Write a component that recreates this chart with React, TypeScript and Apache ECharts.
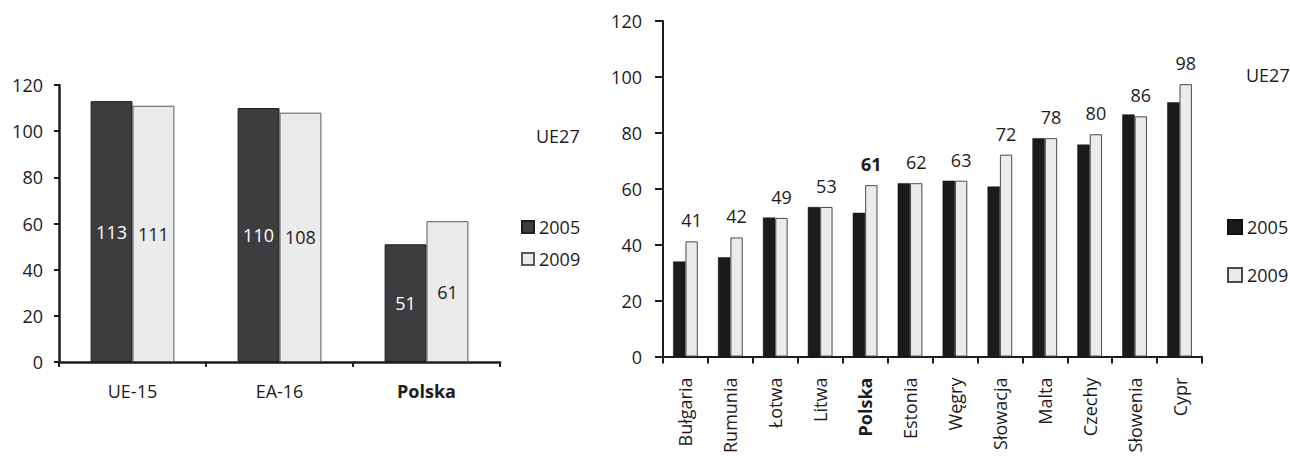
import React, { useEffect, useRef } from "react";
import * as echarts from "echarts";

const FONT = "Open Sans";
const FS = 18;

const leftCategories = ["UE-15", "EA-16", "Polska"];
const left2005 = [113, 110, 51];
const left2009 = [111, 108, 61];

const rightCategories = ["Bułgaria", "Rumunia", "Łotwa", "Litwa", "Polska", "Estonia", "Węgry", "Słowacja", "Malta", "Czechy", "Słowenia", "Cypr"];
const right2005 = [34, 35.5, 49.7, 53.5, 51.4, 62, 62.9, 60.8, 78.1, 75.8, 86.6, 90.9];
const right2009 = [41.2, 42.6, 49.6, 53.5, 61.3, 62, 62.9, 72.2, 78.1, 79.5, 85.9, 97.4];
const right2009Labels = ["41", "42", "49", "53", "61", "62", "63", "72", "78", "80", "86", "98"];

const seriesNames = ["2005", "2009"];
const yTicks = { min: 0, max: 120, interval: 20 };
const refLabel = "UE27";
const boldCategory = "Polska";

const TXT = "#1e1b1c";

function catFormatter(v: string) {
  return v === boldCategory ? `{b|${v}}` : v;
}

const boldRich = { b: { fontWeight: "bold", fontSize: FS, fontFamily: FONT, color: TXT } };

function leftOption(): any {
  return {
    animation: false,
    textStyle: { fontFamily: FONT },
    grid: { left: 59, top: 85, width: 441, height: 277 },
    xAxis: {
      type: "category",
      data: leftCategories,
      axisLine: { lineStyle: { color: TXT, width: 2.5 } },
      axisTick: { show: true, length: 5, lineStyle: { color: TXT, width: 2 } },
      axisLabel: {
        margin: 20,
        color: TXT,
        fontSize: FS,
        fontFamily: FONT,
        formatter: catFormatter,
        rich: boldRich,
      },
    },
    yAxis: {
      type: "value",
      ...yTicks,
      axisLine: { show: true, lineStyle: { color: TXT, width: 2.5 } },
      axisTick: { show: true, length: 5, lineStyle: { color: TXT, width: 2 } },
      splitLine: { show: false },
      axisLabel: { margin: 16, color: TXT, fontSize: FS, fontFamily: FONT },
    },
    legend: {
      orient: "vertical",
      left: 521,
      top: 218,
      padding: 0,
      itemWidth: 12,
      itemHeight: 12,
      itemGap: 14,
      icon: "rect",
      textStyle: { fontSize: FS, color: TXT, fontFamily: FONT },
      data: seriesNames,
    },
    graphic: [
      {
        type: "text",
        left: 536,
        top: 127,
        style: { text: refLabel, fontSize: FS, fill: TXT, fontFamily: FONT },
      },
    ],
    series: [
      {
        name: seriesNames[0],
        type: "bar",
        data: left2005,
        barGap: "0%",
        barCategoryGap: "43%",
        itemStyle: { color: "#3d3d3f", borderColor: "#1f1f1f", borderWidth: 1 },
        label: { show: true, position: "inside", color: "#ffffff", fontSize: FS, fontFamily: FONT },
      },
      {
        name: seriesNames[1],
        type: "bar",
        data: left2009,
        barGap: "0%",
        barCategoryGap: "43%",
        itemStyle: { color: "#ebebeb", borderColor: "#5a5a5a", borderWidth: 1 },
        label: { show: true, position: "inside", color: TXT, fontSize: FS, fontFamily: FONT },
      },
    ],
  };
}

function rightOption(): any {
  return {
    animation: false,
    textStyle: { fontFamily: FONT },
    grid: { left: 63, top: 21, width: 539, height: 342 },
    xAxis: {
      type: "category",
      data: rightCategories,
      axisLine: { lineStyle: { color: TXT, width: 2 } },
      axisTick: { show: true, length: 7, lineStyle: { color: TXT, width: 2 } },
      axisLabel: {
        rotate: 90,
        margin: 21,
        color: TXT,
        fontSize: FS,
        fontFamily: FONT,
        interval: 0,
        formatter: catFormatter,
        rich: boldRich,
      },
    },
    yAxis: {
      type: "value",
      ...yTicks,
      axisLine: { show: true, lineStyle: { color: TXT, width: 2 } },
      axisTick: { show: true, length: 8, lineStyle: { color: TXT, width: 2 } },
      splitLine: { show: false },
      axisLabel: { margin: 21, color: TXT, fontSize: FS, fontFamily: FONT },
    },
    legend: {
      orient: "vertical",
      left: 627,
      top: 218,
      padding: 0,
      itemWidth: 14,
      itemHeight: 14,
      itemGap: 30,
      icon: "rect",
      textStyle: { fontSize: FS, color: TXT, fontFamily: FONT },
      data: seriesNames,
    },
    graphic: [
      {
        type: "text",
        left: 646,
        top: 66,
        style: { text: refLabel, fontSize: FS, fill: TXT, fontFamily: FONT },
      },
    ],
    series: [
      {
        name: seriesNames[0],
        type: "bar",
        data: right2005,
        barGap: "0%",
        barCategoryGap: "45%",
        itemStyle: { color: "#1b1b1b", borderColor: "#111", borderWidth: 0.5 },
      },
      {
        name: seriesNames[1],
        type: "bar",
        data: right2009,
        barGap: "0%",
        barCategoryGap: "45%",
        itemStyle: { color: "#ebebeb", borderColor: "#4a4a4a", borderWidth: 1 },
        label: {
          show: true,
          position: "top",
          distance: 12,
          color: TXT,
          fontSize: FS,
          fontFamily: FONT,
          formatter: (p: any) => {
            const t = right2009Labels[p.dataIndex];
            return rightCategories[p.dataIndex] === boldCategory ? `{b|${t}}` : t;
          },
          rich: boldRich,
        },
      },
    ],
  };
}

function Chart({ option, style }: { option: any; style: React.CSSProperties }) {
  const ref = useRef<HTMLDivElement>(null);
  useEffect(() => {
    if (!ref.current) return;
    const chart = echarts.init(ref.current, undefined, { renderer: "svg" });
    chart.setOption(option);
    return () => chart.dispose();
  }, []);
  return <div ref={ref} style={style} />;
}

export default function App() {
  return (
    <div style={{ position: "absolute", left: 0, top: 0, width: 1290, height: 456, background: "#fff", overflow: "hidden" }}>
      <Chart option={leftOption()} style={{ position: "absolute", left: 0, top: 0, width: 600, height: 456 }} />
      <Chart option={rightOption()} style={{ position: "absolute", left: 600, top: 0, width: 690, height: 456 }} />
    </div>
  );
}
